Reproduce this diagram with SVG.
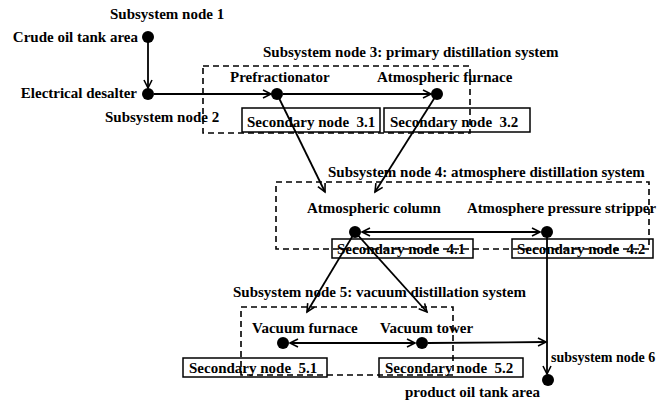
<svg xmlns="http://www.w3.org/2000/svg" width="660" height="405" viewBox="0 0 660 405">
  <style>
    text { font-family: "Liberation Serif", "Times New Roman", serif; font-weight: bold; font-size: 15px; fill: #000; }
    .keep { white-space: pre; }
    .flow { stroke: #000; stroke-width: 1.8; fill: none; }
    .group { stroke: #000; stroke-width: 1.6; fill: none; stroke-dasharray: 6 4; }
    .sub { stroke: #000; stroke-width: 1.5; fill: none; }
    .dot { fill: #000; }
  </style>
  <defs>
    <marker id="arrow" markerUnits="userSpaceOnUse" markerWidth="12" markerHeight="12" refX="9" refY="5" orient="auto-start-reverse">
      <path d="M1,1 L9,5 L1,9" fill="none" stroke="#000" stroke-width="1.6"/>
    </marker>
  </defs>

  <rect width="660" height="405" fill="#fff"/>

  <!-- secondary node boxes -->
  <g id="secondary-3-1"><rect class="sub" x="242" y="108" width="138" height="24"/><text class="keep" x="247" y="127">Secondary node  3.1</text></g>
  <g id="secondary-3-2"><rect class="sub" x="384" y="108" width="146" height="24"/><text class="keep" x="390" y="127">Secondary node  3.2</text></g>
  <g id="secondary-4-1"><rect class="sub" x="332" y="239" width="141" height="19"/><text class="keep" x="337" y="254">Secondary node  4.1</text></g>
  <g id="secondary-4-2"><rect class="sub" x="512" y="239" width="141" height="19"/><text class="keep" x="517" y="254">Secondary node  4.2</text></g>
  <g id="secondary-5-1"><rect class="sub" x="183" y="358" width="144" height="19"/><text class="keep" x="189" y="373">Secondary node  5.1</text></g>
  <g id="secondary-5-2"><rect class="sub" x="379" y="358" width="144" height="19"/><text class="keep" x="385" y="373">Secondary node  5.2</text></g>

  <!-- subsystem groups -->
  <g id="subsystem-3"><rect class="group" x="203" y="66" width="267" height="67"/><text x="263" y="57">Subsystem node 3: primary distillation system</text></g>
  <g id="subsystem-4"><rect class="group" x="276" y="182" width="373" height="67"/><text x="328" y="177">Subsystem node 4: atmosphere distillation system</text></g>
  <g id="subsystem-5"><rect class="group" x="241" y="307" width="212" height="68"/><text x="233" y="297">Subsystem node 5: vacuum distillation system</text></g>

  <!-- connectors -->
  <g id="connectors">
    <line class="flow" x1="148" y1="42" x2="148" y2="88" marker-end="url(#arrow)"/>
    <line class="flow" x1="154" y1="94" x2="271" y2="94" marker-end="url(#arrow)"/>
    <line class="flow" x1="283" y1="94" x2="431" y2="94" marker-end="url(#arrow)"/>
    <line class="flow" x1="277" y1="94" x2="325" y2="192" marker-end="url(#arrow)"/>
    <line class="flow" x1="437" y1="94" x2="375" y2="192" marker-end="url(#arrow)"/>
    <line class="flow" x1="362" y1="232" x2="540" y2="232" marker-start="url(#arrow)" marker-end="url(#arrow)"/>
    <line class="flow" x1="355" y1="232" x2="307" y2="312" marker-end="url(#arrow)"/>
    <line class="flow" x1="355" y1="232" x2="427" y2="312" marker-end="url(#arrow)"/>
    <line class="flow" x1="290" y1="343" x2="415" y2="343" marker-start="url(#arrow)" marker-end="url(#arrow)"/>
    <line class="flow" x1="428" y1="343" x2="546" y2="342" marker-end="url(#arrow)"/>
    <line class="flow" x1="547" y1="232" x2="547" y2="374" marker-end="url(#arrow)"/>
  </g>

  <!-- subsystem nodes -->
  <g id="node-1"><circle class="dot" cx="148" cy="37" r="6"/><text x="110" y="19">Subsystem node 1</text><text x="138" y="42" text-anchor="end">Crude oil tank area</text></g>
  <g id="node-2"><circle class="dot" cx="148" cy="94" r="6"/><text x="137" y="98" text-anchor="end">Electrical desalter</text><text x="105" y="122">Subsystem node 2</text></g>
  <g id="node-prefractionator"><circle class="dot" cx="277" cy="94" r="6"/><text x="230" y="82">Prefractionator</text></g>
  <g id="node-atmospheric-furnace"><circle class="dot" cx="437" cy="94" r="6"/><text x="377" y="82">Atmospheric furnace</text></g>
  <g id="node-atmospheric-column"><circle class="dot" cx="355" cy="232" r="6"/><text x="307" y="213">Atmospheric column</text></g>
  <g id="node-stripper"><circle class="dot" cx="547" cy="232" r="6"/><text x="467" y="213" textLength="189" lengthAdjust="spacingAndGlyphs">Atmosphere pressure stripper</text></g>
  <g id="node-vacuum-furnace"><circle class="dot" cx="283" cy="343" r="6"/><text x="252" y="333">Vacuum furnace</text></g>
  <g id="node-vacuum-tower"><circle class="dot" cx="422" cy="343" r="6"/><text x="380" y="333">Vacuum tower</text></g>
  <g id="node-6"><circle class="dot" cx="548" cy="380" r="6"/><text x="551" y="362" style="font-size:14px">subsystem node 6</text><text x="405" y="397">product oil tank area</text></g>
</svg>
